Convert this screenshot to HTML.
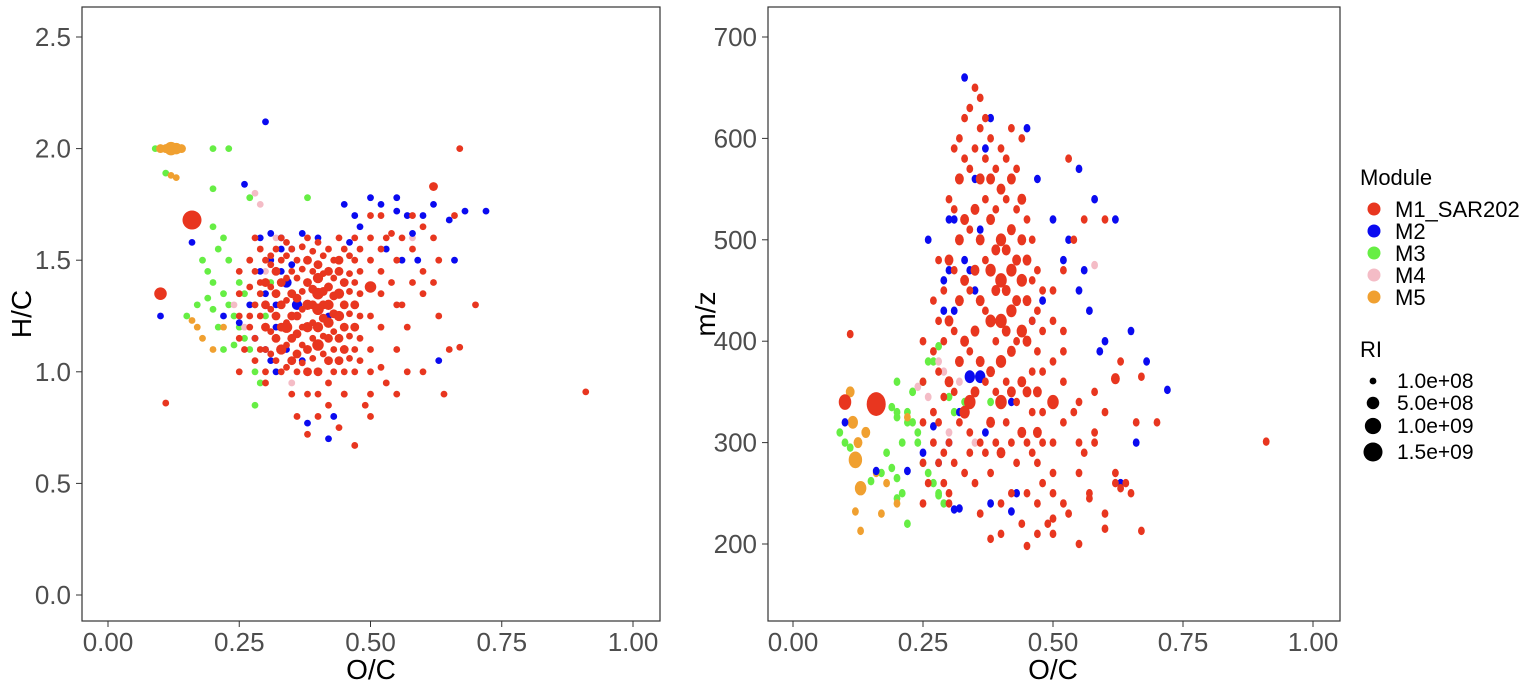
<!DOCTYPE html>
<html><head><meta charset="utf-8"><style>
body{margin:0;background:#fff;font-family:"Liberation Sans",Arial,sans-serif;}
svg{display:block}
</style></head><body>
<svg id="chart" width="1535" height="685" viewBox="0 0 1535 685" xmlns="http://www.w3.org/2000/svg">
<rect width="1535" height="685" fill="#fff"/>
<g id="left"></g>
<g id="right"></g>
<g id="legend"></g>
</svg>
<script>
// rows: [O/C, H/C, m/z, RI in 1e8 units]
const m1Points=[[0.16,1.68,338,15],[0.10,1.35,340,5],[0.11,0.86,407,1],[0.91,0.91,301,1],[0.67,2.0,213,1],[0.67,1.11,365,1],[0.62,1.83,363,2],
[0.30,1.5,540,1],[0.30,1.4,480,2],[0.30,1.3,420,2],[0.30,1.2,360,2],[0.30,1.1,300,1],[0.30,1.0,250,1],
[0.32,1.55,600,1],[0.32,1.45,560,2],[0.32,1.35,500,2],[0.32,1.25,440,2],[0.32,1.15,380,2],[0.32,1.05,320,1],
[0.33,1.6,620,1],[0.33,1.5,580,1],[0.33,1.4,520,2],[0.33,1.3,460,2],[0.33,1.2,400,2],[0.33,1.1,330,3],[0.33,1.0,270,1],
[0.35,1.55,650,1],[0.35,1.45,590,1],[0.35,1.35,530,2],[0.35,1.25,470,2],[0.35,1.15,410,2],[0.35,1.05,350,2],
[0.36,1.5,640,1],[0.36,1.42,610,1],[0.36,1.33,560,2],[0.36,1.25,500,2],[0.36,1.17,440,2],[0.36,1.08,380,2],[0.36,1.0,300,1],
[0.38,1.6,600,1],[0.38,1.5,560,2],[0.38,1.4,520,2],[0.38,1.3,470,3],[0.38,1.2,420,3],[0.38,1.1,370,2],[0.38,1.0,320,2],[0.38,0.9,270,1],
[0.40,1.58,590,1],[0.40,1.48,550,2],[0.40,1.42,500,3],[0.40,1.35,460,4],[0.40,1.28,420,4],[0.40,1.2,380,3],[0.40,1.12,340,4],[0.40,1.0,290,2],
[0.42,1.55,610,1],[0.42,1.45,560,2],[0.42,1.38,510,2],[0.42,1.3,470,3],[0.42,1.22,430,3],[0.42,1.15,390,2],[0.42,1.05,350,2],[0.42,0.95,300,1],
[0.44,1.6,600,1],[0.44,1.5,540,2],[0.44,1.45,500,2],[0.44,1.35,460,3],[0.44,1.25,410,3],[0.44,1.15,360,2],[0.44,1.05,310,2],
[0.45,1.55,520,1],[0.45,1.4,480,2],[0.45,1.3,440,2],[0.45,1.2,400,2],[0.45,1.1,350,2],[0.45,1.0,300,1],[0.45,0.9,250,1],
[0.47,1.6,470,1],[0.47,1.5,430,1],[0.47,1.4,390,1],[0.47,1.3,350,2],[0.47,1.2,310,2],[0.47,1.1,280,1],[0.47,1.0,240,1],
[0.50,1.7,450,1],[0.50,1.6,420,1],[0.50,1.5,380,1],[0.50,1.38,340,4],[0.50,1.25,300,1],[0.50,1.1,270,1],[0.50,1.0,250,1],[0.50,0.9,225,1],[0.50,0.8,210,1],
[0.28,1.6,480,1],[0.28,1.45,420,1],[0.28,1.3,370,1],[0.28,1.15,320,1],[0.28,1.05,280,1],
[0.25,1.45,400,1],[0.25,1.35,360,1],[0.25,1.25,320,1],[0.25,1.15,280,1],[0.25,1.0,240,1],
[0.53,1.6,580,1],[0.55,1.5,340,1],[0.55,1.3,300,1],[0.55,1.1,270,1],[0.57,1.2,250,1],[0.58,1.4,310,1],[0.60,1.65,520,1],[0.60,1.35,230,1],[0.60,1.0,215,1],[0.63,1.5,380,1],[0.63,1.25,255,1],[0.65,1.1,250,1],[0.70,1.3,320,1],[0.55,0.9,200,1],[0.64,0.9,260,1],[0.52,1.7,470,1],[0.58,1.7,300,1],[0.62,1.6,270,1],[0.66,1.7,320,1],[0.45,0.9,198,1],[0.47,0.67,210,1],[0.44,0.75,220,1],[0.35,0.9,260,1],[0.36,0.8,230,1],[0.30,0.95,240,1],[0.40,0.9,210,1],[0.38,0.72,205,1],[0.34,1.2,340,4],[0.27,1.25,300,1],[0.26,1.1,260,1],[0.29,1.35,260,1]];
const m1Extra=[[0.31,1.48,590,1],[0.31,1.38,530,1],[0.31,1.28,470,1],[0.31,1.18,410,1],[0.31,1.08,350,1],[0.31,1.52,280,1],
[0.34,1.52,630,1],[0.34,1.42,570,1],[0.34,1.32,510,1],[0.34,1.22,450,1],[0.34,1.12,390,1],[0.34,1.02,310,1],[0.34,1.58,290,1],
[0.37,1.56,620,1],[0.37,1.46,580,1],[0.37,1.36,540,1],[0.37,1.28,480,1],[0.37,1.2,430,1],[0.37,1.12,360,1],[0.37,1.04,290,1],
[0.39,1.54,570,1],[0.39,1.45,530,1],[0.39,1.37,490,2],[0.39,1.3,450,2],[0.39,1.22,400,1],[0.39,1.15,350,1],[0.39,1.06,300,1],
[0.41,1.52,580,1],[0.41,1.44,540,1],[0.41,1.36,490,2],[0.41,1.3,450,2],[0.41,1.24,410,2],[0.41,1.16,360,1],[0.41,1.08,320,1],
[0.43,1.5,570,1],[0.43,1.42,530,1],[0.43,1.34,480,2],[0.43,1.26,440,2],[0.43,1.18,400,1],[0.43,1.1,340,1],[0.43,1.0,280,1],
[0.46,1.52,500,1],[0.46,1.44,460,1],[0.46,1.36,420,1],[0.46,1.26,370,1],[0.46,1.16,330,1],[0.46,1.06,290,1],
[0.48,1.55,450,1],[0.48,1.45,410,1],[0.48,1.35,370,1],[0.48,1.25,330,1],[0.48,1.15,300,1],[0.48,1.05,260,1],
[0.29,1.55,450,1],[0.29,1.4,400,1],[0.29,1.25,345,1],[0.29,1.1,290,1],[0.27,1.5,440,1],[0.27,1.38,390,1],[0.27,1.2,330,1],
[0.52,1.45,410,1],[0.52,1.35,360,1],[0.52,1.2,320,1],[0.52,1.55,390,1],[0.54,1.62,500,1],[0.54,1.4,330,1],[0.56,1.6,520,1],[0.56,1.3,290,1],[0.58,1.55,350,1],[0.6,1.45,330,1],[0.62,1.4,260,1],[0.57,1.0,245,1],[0.52,1.02,240,1],[0.53,0.95,230,1],[0.49,0.85,220,1],[0.4,0.8,240,1],[0.42,0.85,250,1]];
const m2Points=[[0.10,1.25,320,1],[0.16,1.58,272,1],[0.30,2.12,520,1],[0.26,1.84,500,1],[0.29,1.6,460,1],[0.31,1.5,430,1],[0.33,1.45,400,1],[0.34,1.4,365,3],[0.36,1.3,365,3],[0.32,1.2,330,1],[0.30,1.1,300,1],[0.28,1.15,280,1],[0.35,1.55,560,1],[0.37,1.62,590,1],[0.38,1.5,620,1],[0.33,1.6,660,1],[0.36,1.25,510,1],[0.30,1.35,470,1],[0.45,1.75,610,1],[0.47,1.7,560,1],[0.50,1.78,520,1],[0.52,1.75,480,1],[0.55,1.72,450,1],[0.57,1.7,430,1],[0.60,1.7,400,1],[0.62,1.75,520,1],[0.65,1.68,410,1],[0.68,1.72,380,1],[0.72,1.72,352,1],[0.58,1.62,540,1],[0.53,1.55,500,1],[0.56,1.5,470,1],[0.48,1.65,440,1],[0.46,1.58,420,1],[0.66,1.5,300,1],[0.63,1.05,260,1],[0.42,0.7,232,1],[0.38,0.77,240,1],[0.43,0.8,250,1],[0.31,1.05,234,1],[0.40,1.6,380,1],[0.42,1.25,340,1],[0.27,1.3,316,1],[0.25,1.22,290,1],[0.22,1.25,272,1],[0.37,1.05,310,1],[0.59,1.5,390,1],[0.55,1.78,570,1],[0.29,1.45,430,1],[0.32,1.0,235,1],[0.31,1.62,520,1],[0.33,1.55,480,1],[0.35,1.48,450,1],[0.32,1.3,500,1],[0.34,1.1,470,1]];
const m3Points=[[0.09,2.0,310,1],[0.10,2.0,300,1],[0.20,2.0,360,1],[0.23,2.0,350,1],[0.11,1.89,295,1],[0.20,1.82,330,1],[0.27,1.78,380,1],[0.38,1.78,340,1],[0.20,1.65,325,1],[0.22,1.6,320,1],[0.18,1.5,290,1],[0.19,1.45,275,1],[0.20,1.4,265,1],[0.22,1.35,330,1],[0.23,1.3,320,1],[0.24,1.25,300,1],[0.25,1.2,280,1],[0.26,1.15,270,1],[0.21,1.2,250,1],[0.20,1.28,245,1],[0.27,1.1,260,1],[0.28,1.0,250,1],[0.29,0.95,240,1],[0.28,0.85,248,1],[0.22,1.1,220,1],[0.19,1.33,335,1],[0.25,1.4,360,1],[0.23,1.5,350,1],[0.15,1.25,262,1],[0.17,1.3,270,1],[0.24,1.12,310,1],[0.26,1.35,380,1],[0.30,1.25,345,1],[0.31,1.4,330,1],[0.21,1.55,300,1],[0.28,1.3,395,1],[0.33,1.3,340,1]];
const m4Points=[[0.28,1.8,380,1],[0.29,1.75,370,1],[0.27,1.5,330,1],[0.32,1.6,360,1],[0.24,1.3,355,1],[0.35,0.95,300,1],[0.58,1.6,475,1],[0.30,1.45,310,1],[0.26,1.2,345,1]];
const m5Points=[[0.10,2.0,340,2],[0.11,2.0,350,2],[0.115,2.0,320,3],[0.12,2.0,283,6],[0.125,2.0,300,2],[0.13,2.0,255,4],[0.14,2.0,310,2],[0.12,1.88,232,1],[0.13,1.87,213,1],[0.16,1.23,270,1],[0.18,1.15,260,1],[0.20,1.1,240,1],[0.22,1.2,325,1],[0.17,1.2,230,1]];
const moduleNames=["M1_SAR202","M2","M3","M4","M5"];
const moduleColors=["#e8361f","#0a0af0","#66ee44","#f4bcc6","#f0a030"];
const xTicks=[0,0.25,0.5,0.75,1.0];
const xTickLabels=["0.00","0.25","0.50","0.75","1.00"];
const hcTicks=[0,0.5,1.0,1.5,2.0,2.5];
const hcTickLabels=["0.0","0.5","1.0","1.5","2.0","2.5"];
const mzTicks=[200,300,400,500,600,700];
const mzTickLabels=["200","300","400","500","600","700"];
const riLegend=[1,5,10,15];
const riLegendLabels=["1.0e+08","5.0e+08","1.0e+09","1.5e+09"];

const NS="http://www.w3.org/2000/svg";
function mk(tag,attrs,parent){const e=document.createElementNS(NS,tag);for(const k in attrs)e.setAttribute(k,attrs[k]);parent.appendChild(e);return e;}
function rad(ri){return 3.4*Math.pow(ri,0.38);}
const lx=v=>108+v*525, lyHC=v=>595-v*223.2;
const rx=v=>793+v*520, ryMZ=v=>544-(v-200)*1.014;

function panel(g,x0,x1,xs,ys,yTicks,yLabels,yTitle,xTitleX,yTitleX){
  const fr=mk('rect',{x:x0,y:7,width:x1-x0,height:614,fill:'none',stroke:'#333',"stroke-width":1.2},g);
  
  xTicks.forEach((t,i)=>{
    const tk=mk('line',{x1:xs(t),x2:xs(t),y1:621,y2:627,stroke:'#333'},g);
    
    const tx=mk('text',{x:xs(t),y:651,"text-anchor":"middle","font-size":26,fill:'#4d4d4d'},g);
    tx.textContent=xTickLabels[i];
    
  });
  yTicks.forEach((t,i)=>{
    const tk=mk('line',{x1:x0-6,x2:x0,y1:ys(t),y2:ys(t),stroke:'#333'},g);
    
    const tx=mk('text',{x:x0-11,y:ys(t)+9,"text-anchor":"end","font-size":26,fill:'#4d4d4d'},g);
    tx.textContent=yLabels[i];
    
  });
  const xt=mk('text',{x:xTitleX,y:679,"text-anchor":"middle","font-size":28,fill:'#000'},g);
  xt.textContent="O/C";
  
  const yt=mk('text',{x:yTitleX,y:314,"text-anchor":"middle","font-size":28,fill:'#000',transform:`rotate(-90 ${yTitleX} 314)`},g);
  yt.textContent=yTitle;
  
}
const L=document.getElementById('left'),R=document.getElementById('right');
panel(L,82,660,lx,lyHC,hcTicks,hcTickLabels,"H/C",371,31);
panel(R,768,1340,rx,ryMZ,mzTicks,mzTickLabels,"m/z",1053,715);

const groups=[[m3Points,2],[m5Points,4],[m4Points,3],[m2Points,1],[m1Extra,0],[m1Points,0]];
groups.forEach(([pts,m])=>{
  pts.forEach(p=>{
    const a=mk('circle',{cx:lx(p[0]),cy:lyHC(p[1]),r:rad(p[3]),fill:moduleColors[m]},L);
    
    
    const b=mk('ellipse',{cx:rx(p[0]),cy:ryMZ(p[2]),rx:rad(p[3]),ry:rad(p[3])*1.25,fill:moduleColors[m]},R);
    
    
  });
});

const G=document.getElementById('legend');
const lt=mk('text',{x:1360,y:185,"font-size":22,fill:'#000'},G);lt.textContent="Module";

moduleNames.forEach((n,i)=>{
  const y=209+i*22;
  const c=mk('circle',{cx:1374,cy:y,r:6.5,fill:moduleColors[i]},G);
  
  const t=mk('text',{x:1395,y:y+8,"font-size":22,fill:'#000'},G);t.textContent=n;
  
});
const rt=mk('text',{x:1360,y:357,"font-size":22,fill:'#000'},G);rt.textContent="RI";

const riY=[381,403,426,452];
riLegend.forEach((v,i)=>{
  const c=mk('circle',{cx:1373,cy:riY[i],r:rad(v),fill:'#000'},G);
  
  const t=mk('text',{x:1397,y:riY[i]+7,"font-size":21,fill:'#000'},G);t.textContent=riLegendLabels[i];
  
});
</script>
</body></html>
